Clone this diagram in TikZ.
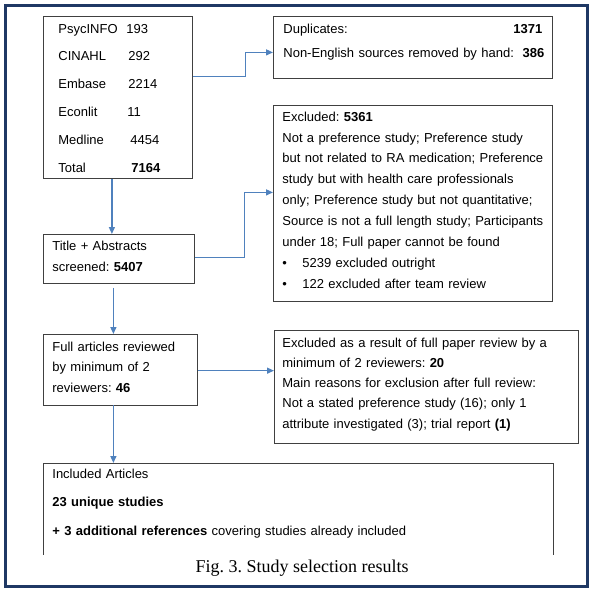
\documentclass[tikz,border=0pt]{standalone}
\usepackage{fontspec}
\setmainfont{Liberation Sans}
\newfontfamily\capfont{Liberation Serif}
\usetikzlibrary{arrows.meta}
\definecolor{flowblue}{RGB}{79,129,189}
\definecolor{framenavy}{RGB}{31,56,100}
\definecolor{boxgray}{RGB}{64,64,64}
\frenchspacing
\newcommand{\srcrow}[3]{\makebox[#1pt][l]{#2}#3}
\newcommand{\blt}{\makebox[20pt][l]{\textbullet}}

\tikzset{
  box/.style={draw=boxgray, line width=0.8pt, anchor=north west, inner ysep=0pt,
    align=left, font=\fontsize{13}{#1}\selectfont},
  flow/.style={->, draw=flowblue, line width=1.3pt}
}

\begin{document}
\begin{tikzpicture}[x=1pt,y=-1pt,>={Triangle[length=7pt,width=6pt]}]
\useasboundingbox (0,0) rectangle (594,597);
\draw[framenavy,line width=3pt] (5.5,5.5) rectangle (587,586.5);

\node[box=27.8, inner xsep=15pt, text width=119pt, text height=16.7pt, text depth=145.3pt] (src) at (43,16)
  {\srcrow{68}{PsycINFO}{193}\\ \srcrow{70}{CINAHL}{292}\\ \srcrow{70}{Embase}{2214}\\
   \srcrow{69}{Econlit}{11}\\ \srcrow{72}{Medline}{4454}\\ \srcrow{73}{Total}{\textbf{7164}}};
\node[box=24, inner xsep=10pt, text width=259pt, text height=16.7pt, text depth=45.3pt] (dup) at (273,16)
  {Duplicates:\hfill\textbf{1371}\\ \mbox{Non-English sources removed by hand:\ \ \textbf{386}}};
\node[box=20.9, inner xsep=9pt, text width=261pt, text height=15.7pt, text depth=180.3pt] (exc) at (273,105)
  {Excluded: \textbf{5361}\\ Not a preference study; Preference study\\
   but not related to RA medication; Preference\\ study but with health care professionals\\
   only; Preference study but not quantitative;\\ Source is not a full length study; Participants\\
   under 18; Full paper cannot be found\\ \blt 5239 excluded outright\\ \blt 122 excluded after team review};
\node[box=21, inner xsep=9pt, text width=133pt, text height=15.7pt, text depth=33.3pt] (ttl) at (43,234)
  {Title + Abstracts\\ screened: \textbf{5407}};
\node[box=20.5, inner xsep=9pt, text width=136pt, text height=16.7pt, text depth=53.8pt] (full) at (43,334)
  {Full articles reviewed\\ by minimum of 2\\ reviewers: \textbf{46}};
\node[box=20.25, inner xsep=8pt, text width=288pt, text height=16.7pt, text depth=96.3pt] (exf) at (274,330)
  {Excluded as a result of full paper review by a\\ minimum of 2 reviewers: \textbf{20}\\
   Main reasons for exclusion after full review:\\ Not a stated preference study (16); only 1\\
   attribute investigated (3); trial report \textbf{(1)}};
\node[box=28.5, draw=none, inner xsep=9pt, text width=492pt, text height=14.7pt, text depth=76.3pt] (inc) at (43,463)
  {Included Articles\\ \textbf{23 unique studies}\\ \textbf{+ 3 additional references} covering studies already included};
\draw[boxgray,line width=0.8pt] (inc.south west) -- (inc.north west) -- (inc.north east) -- (inc.south east);
\node[font=\capfont\fontsize{18}{20}\selectfont] (cap) at (302,568) {Fig. 3. Study selection results};

\draw[flow] ([yshift=21pt]src.east) -- ++(53,0) |- ([yshift=-5pt]dup.west);
\draw[flow] ([xshift=-6pt]src.south) -- ([xshift=-6pt]src.south |- ttl.north);
\draw[flow] ([yshift=1.5pt]ttl.east) -- ++(50,0) |- ([yshift=11pt]exc.west);
\draw[flow] ([xshift=-5.5pt,yshift=-4pt]ttl.south) -- ([xshift=-5.5pt]ttl.south |- full.north);
\draw[flow] ([yshift=-1pt]full.east) -- ([yshift=-1pt]full.east -| exf.west);
\draw[flow] ([xshift=-7pt]full.south) -- ([xshift=-7pt]full.south |- inc.north);
\end{tikzpicture}
\end{document}
